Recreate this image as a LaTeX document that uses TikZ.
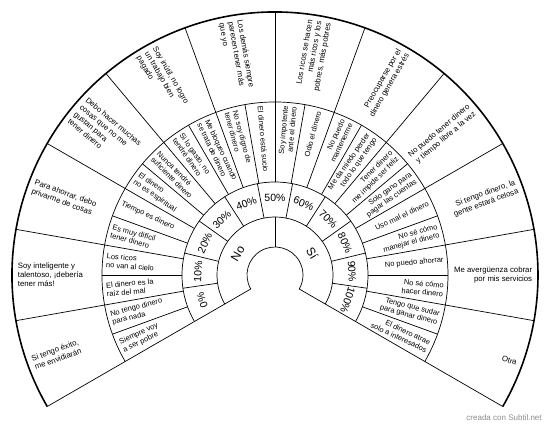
\documentclass[tikz,border=0pt]{standalone}
\usepackage{fontspec}
\setmainfont{Liberation Sans}
\usepackage{tikz}

\tikzset{
  midl/.style={font=\fontsize{7.5}{8.5}\selectfont,align=left,anchor=west,inner sep=1.5pt},
  midr/.style={font=\fontsize{7.5}{8.5}\selectfont,align=right,anchor=east,inner sep=1.5pt},
  outl/.style={font=\fontsize{7.8}{9.2}\selectfont,align=left,anchor=west,inner sep=1.5pt},
  outr/.style={font=\fontsize{7.8}{9.2}\selectfont,align=right,anchor=east,inner sep=1.5pt},
  pct/.style={font=\fontsize{10.5}{12}\selectfont,inner sep=1pt},
  hub/.style={font=\fontsize{12}{14}\selectfont,inner sep=1pt}
}

\begin{document}
\begin{tikzpicture}[x=1pt,y=1pt,line width=0.7pt]
\useasboundingbox (-275,-153) rectangle (275,275);

% rings
\draw (210:28) arc[start angle=210,end angle=-30,radius=28];
\draw (210:58) arc[start angle=210,end angle=-30,radius=58];
\draw (210:93) arc[start angle=210,end angle=-30,radius=93];
\draw (210:173) arc[start angle=210,end angle=-30,radius=173];
\draw[line width=1.6pt] (210:263) arc[start angle=210,end angle=-30,radius=263];
\draw (210:28) -- (210:263);
\draw (-30:28) -- (-30:263);
\draw (90:28) -- (90:58);
\foreach \k in {1,...,10} \draw ({210-240/11*\k}:58) -- ({210-240/11*\k}:93);
\foreach \i in {1,...,23} \draw ({210-10*\i}:93) -- ({210-10*\i}:173);
\foreach \j in {1,...,11} \draw ({210-20*\j}:173) -- ({210-20*\j}:263);

% centre
\node [hub,rotate=60] (no) at (150:43){No};
\node [hub,rotate=-60] (si) at (30:43){Sí};

% percentages
\foreach \k [evaluate=\k as \a using 210-240/11*(\k+0.5)] in {0,...,10}{
  \pgfmathtruncatemacro\pc{10*\k}
  \node [pct,rotate=\a-90] (p\k) at (\a:77){\pc\%};
}

% middle ring
\foreach \t [count=\i,evaluate=\i as \a using 215-10*\i] in {
  {Siempre voy\\a ser pobre},{No tengo dinero\\para nada},{El dinero es la\\raíz del mal},
  {Los ricos\\no van al cielo},{Es muy difícil\\tener dinero},{Tiempo es dinero},
  {El dinero\\no es espiritual},{Nunca tendré\\suficiente dinero},{Si lo gasto, no\\tendré dinero},
  {Me bloqueo cuando\\se trata de dinero},{No soy digno de\\tener dinero},{El dinero está sucio}}
  \node [midl,rotate=\a-180] (ml\i) at (\a:171){\t};
\foreach \t [count=\i,evaluate=\i as \a using 95-10*\i] in {
  {Soy impotente\\ante el dinero},{Odio el dinero},{No puedo\\mantenerme},
  {Me da miedo perder\\todo lo que tengo},{Tener dinero\\me impide ser feliz},{Solo gano para\\pagar las cuentas},
  {Uso mal el dinero},{No sé cómo\\manejar el dinero},{No puedo ahorrar},
  {No sé cómo\\hacer dinero},{Tengo que sudar\\para ganar dinero},{El dinero atrae\\solo a interesados}}
  \node [midr,rotate=\a] (mr\i) at (\a:171){\t};

% outer ring
\foreach \t [count=\i,evaluate=\i as \a using 220-20*\i] in {
  {Si tengo éxito,\\me envidiarán},{Soy inteligente y\\talentoso, ¡debería\\tener más!},
  {Para ahorrar, debo\\privarme de cosas},{Debo hacer muchas\\cosas que no me\\gustan para\\tener dinero},
  {Soy inútil, no logro\\un trabajo bien\\pagado},{Los demás siempre\\parecen tener más\\que yo}}
  \node [outl,rotate=\a-180] (ol\i) at (\a:259){\t};
\foreach \t [count=\i,evaluate=\i as \a using 100-20*\i] in {
  {Los ricos se hacen\\más ricos y los\\pobres,  más pobres},{Preocuparse por el\\dinero  genera estrés},
  {No puedo tener dinero\\y tiempo libre a la vez},{Si tengo dinero, la\\gente estará celosa},
  {Me avergüenza cobrar\\por mis servicios},{Otra}}
  \node [outr,rotate=\a] (or\i) at (\a:259){\t};

\node [font=\fontsize{8}{9}\selectfont,text=black!45,anchor=east,inner sep=0pt] (marca) at (267,-143){creada con Subtil.net};
\end{tikzpicture}
\end{document}
